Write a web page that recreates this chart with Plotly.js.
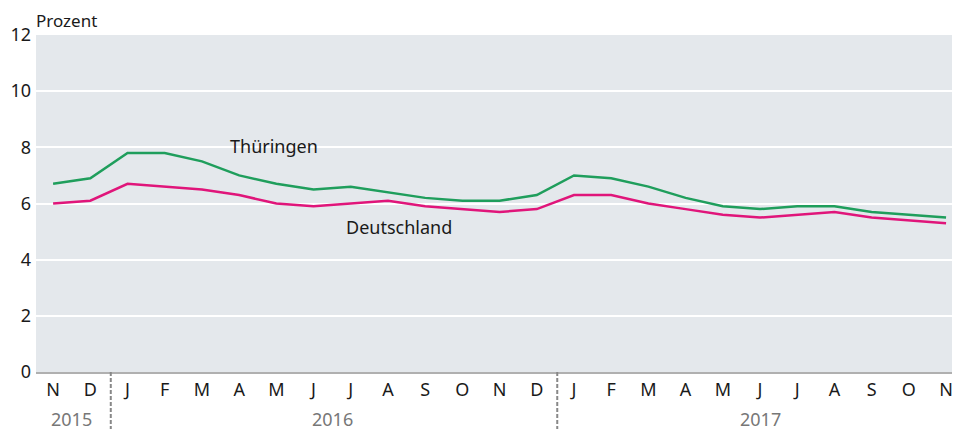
<!DOCTYPE html>
<html><head><meta charset="utf-8">
<script src="https://cdn.plot.ly/plotly-3.0.1.min.js"></script>
<style>html,body{margin:0;padding:0;background:#fff}#chart{width:954px;height:429px}</style>
</head><body><div id="chart"></div>
<script>
const months = ["N","D","J","F","M","A","M","J","J","A","S","O","N","D","J","F","M","A","M","J","J","A","S","O","N"];
const thueringen = [6.7,6.9,7.8,7.8,7.5,7.0,6.7,6.5,6.6,6.4,6.2,6.1,6.1,6.3,7.0,6.9,6.6,6.2,5.9,5.8,5.9,5.9,5.7,5.6,5.5];
const deutschland = [6.0,6.1,6.7,6.6,6.5,6.3,6.0,5.9,6.0,6.1,5.9,5.8,5.7,5.8,6.3,6.3,6.0,5.8,5.6,5.5,5.6,5.7,5.5,5.4,5.3];
const years = ["2015","2016","2017"];
const yearCenters = [0.5, 7.5, 19];
const dividers = [1.55, 13.55];
const yTicks = [0,2,4,6,8,10,12];

const idx = months.map((_, i) => i);
const font = "Noto Sans, sans-serif";

const traces = [
  {x: idx, y: thueringen, type: "scatter", mode: "lines", name: "Thüringen",
   line: {color: "#1f9e5c", width: 2.5}, hoverinfo: "skip"},
  {x: idx, y: deutschland, type: "scatter", mode: "lines", name: "Deutschland",
   line: {color: "#e0157a", width: 2.5}, hoverinfo: "skip"}
];

const annotations = [
  {x: 5.95, y: 8.05, xref: "x", yref: "y", text: "Thüringen", showarrow: false,
   font: {family: font, size: 18, color: "#1a1a1a"}, xanchor: "center", yanchor: "middle"},
  {x: 9.3, y: 5.15, xref: "x", yref: "y", text: "Deutschland", showarrow: false,
   font: {family: font, size: 18, color: "#1a1a1a"}, xanchor: "center", yanchor: "middle"},
  {x: 0, y: 1.0, xref: "paper", yref: "paper", text: "Prozent", showarrow: false,
   xanchor: "left", yanchor: "bottom", yshift: 1, xshift: -2,
   font: {family: font, size: 17, color: "#1a1a1a"}}
];
years.forEach((t, i) => annotations.push({
  x: yearCenters[i], y: -0.138, xref: "x", yref: "paper", text: t, showarrow: false,
  xanchor: "center", yanchor: "middle", font: {family: font, size: 18, color: "#777"}
}));

const shapes = dividers.map(d => ({
  type: "line", xref: "x", yref: "paper", x0: d, x1: d, y0: 0, y1: -0.175,
  line: {color: "#888", width: 2, dash: "4px,2px"}
}));

const layout = {
  width: 954, height: 429,
  margin: {l: 36, r: 2, t: 35, b: 57},
  paper_bgcolor: "#ffffff", plot_bgcolor: "#e4e8ec",
  showlegend: false,
  xaxis: {range: [-0.46, 24.16], tickvals: idx, ticktext: months, showgrid: false,
    zeroline: false, showline: true, linecolor: "#b0b0b0", linewidth: 2,
    ticks: "", tickfont: {family: font, size: 18, color: "#1a1a1a"}, fixedrange: true},
  yaxis: {range: [0, 12], tickvals: yTicks, showgrid: true, gridcolor: "#ffffff", gridwidth: 2,
    zeroline: false, ticks: "", ticklabelstandoff: 4,
    tickfont: {family: font, size: 18, color: "#1a1a1a"}, fixedrange: true},
  annotations: annotations,
  shapes: shapes
};

Plotly.newPlot("chart", traces, layout, {displayModeBar: false, staticPlot: true});
</script></body></html>
